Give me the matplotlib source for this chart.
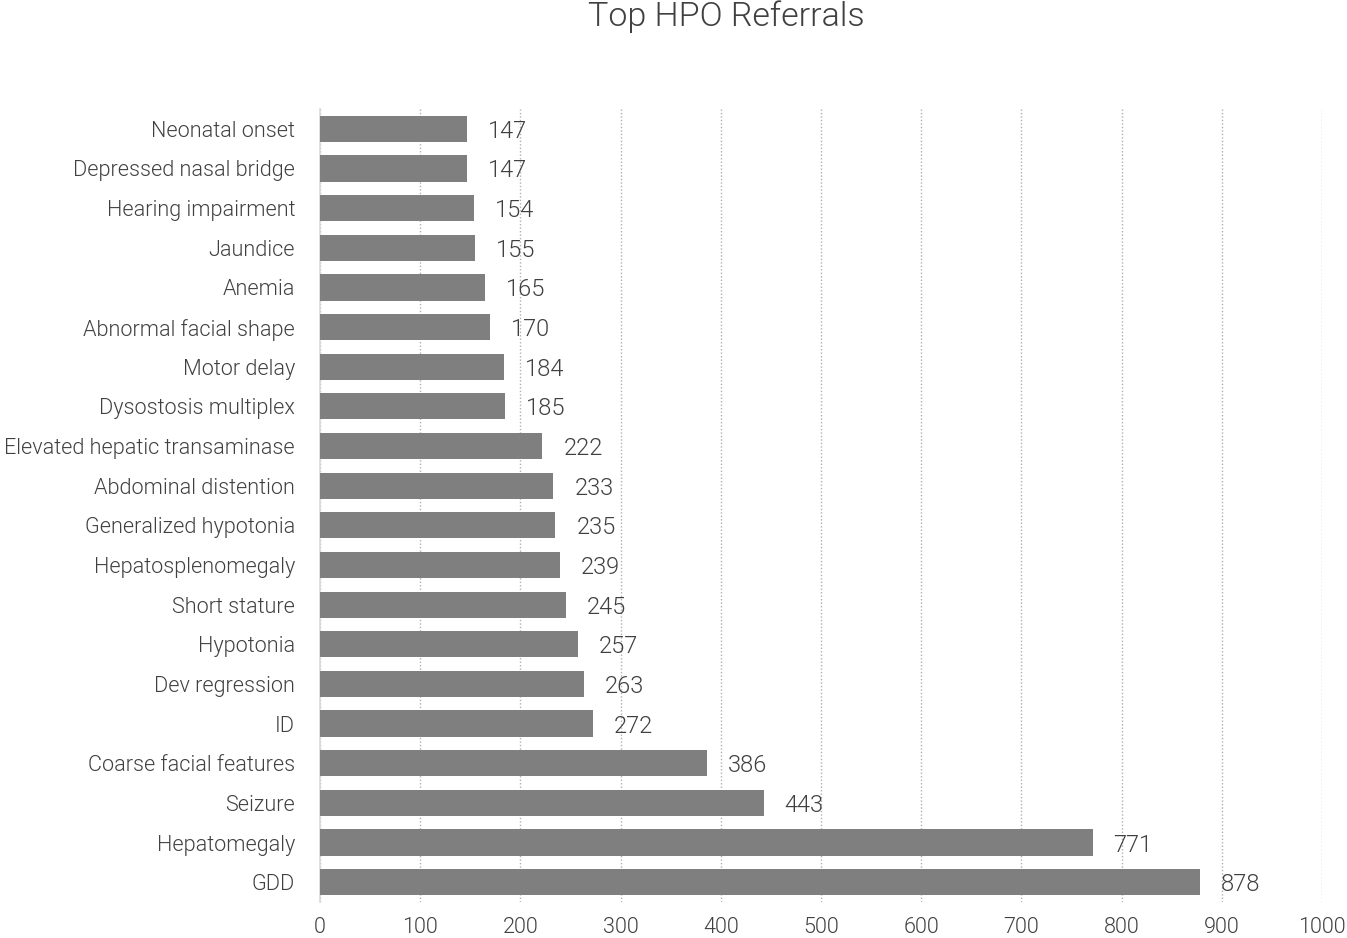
import matplotlib
matplotlib.use("Agg")
import matplotlib.pyplot as plt

categories = ["Neonatal onset", "Depressed nasal bridge", "Hearing impairment", "Jaundice",
              "Anemia", "Abnormal facial shape", "Motor delay", "Dysostosis multiplex",
              "Elevated hepatic transaminase", "Abdominal distention", "Generalized hypotonia",
              "Hepatosplenomegaly", "Short stature", "Hypotonia", "Dev regression", "ID",
              "Coarse facial features", "Seizure", "Hepatomegaly", "GDD"]
values = [147, 147, 154, 155, 165, 170, 184, 185, 222, 233, 235, 239, 245, 257, 263, 272,
          386, 443, 771, 878]
xticks = [0, 100, 200, 300, 400, 500, 600, 700, 800, 900, 1000]

plt.rcParams['font.family'] = ['Roboto', 'DejaVu Sans']
W = 300

fig = plt.figure(figsize=(13.47, 9.38), dpi=100)
ax = fig.add_axes([0.2376, 0.0384, 0.7438, 0.8454])
txt = '#404040'
pos = list(range(len(categories)))
ax.barh(pos, values, height=0.66, color='#7f7f7f', zorder=3)
ax.set_ylim(len(categories) - 0.5, -0.5)
ax.set_xlim(0, 1000)
ax.set_yticks(pos)
ax.set_yticklabels(categories, fontsize=15.6, color=txt, fontweight=W)
ax.set_xticks(xticks)
ax.set_xticklabels([str(t) for t in xticks], fontsize=15.6, color=txt, fontweight=W)
ax.tick_params(axis='both', length=0)
ax.tick_params(axis='y', pad=18)
ax.tick_params(axis='x', pad=11)
for s in ['top', 'right', 'bottom']:
    ax.spines[s].set_visible(False)
ax.spines['left'].set_color('#d9d9d9')
ax.spines['left'].set_linewidth(1.2)
ax.xaxis.grid(True, linestyle=(0, (1, 1.5)), color='#b0b0b0', linewidth=1, zorder=0)
ax.set_axisbelow(True)
for p, v in zip(pos, values):
    ax.annotate(str(v), xy=(v, p), xytext=(15, 0), textcoords='offset points',
                va='center_baseline', ha='left', fontsize=17, color=txt, fontweight=W)
fig.text(0.539, 0.982, "Top HPO Referrals", ha='center', va='center', fontsize=24.5,
         color=txt, fontweight=W)
fig.savefig("out.png", dpi=100)
